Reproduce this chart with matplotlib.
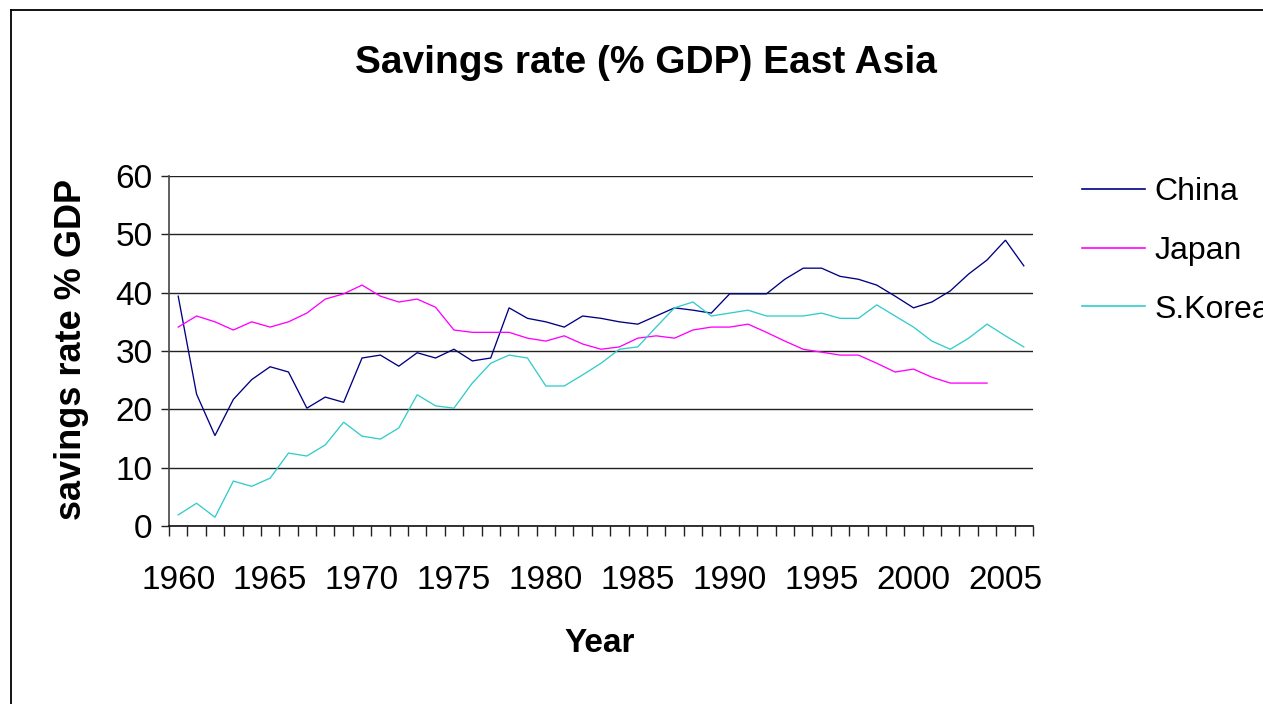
import matplotlib
matplotlib.use("Agg")
import matplotlib.pyplot as plt
from matplotlib.lines import Line2D

plt.rcParams['font.family'] = ['Liberation Sans', 'DejaVu Sans']

years = list(range(1960, 2007))
china = [39.4, 22.6, 15.5, 21.7, 25.1, 27.3, 26.4, 20.2, 22.1, 21.2,
         28.8, 29.3, 27.4, 29.7, 28.8, 30.3, 28.3, 28.8, 37.4, 35.6,
         35.0, 34.1, 36.0, 35.6, 35.0, 34.6, 36.0, 37.4, 37.0, 36.5,
         39.8, 39.8, 39.8, 42.3, 44.2, 44.2, 42.8, 42.3, 41.3, 39.4,
         37.4, 38.4, 40.3, 43.2, 45.6, 49.0, 44.6]
japan = [34.1, 36.0, 35.0, 33.6, 35.0, 34.1, 35.0, 36.5, 38.9, 39.8,
         41.3, 39.4, 38.4, 38.9, 37.5, 33.6, 33.2, 33.2, 33.2, 32.2,
         31.7, 32.6, 31.2, 30.3, 30.7, 32.2, 32.6, 32.2, 33.6, 34.1,
         34.1, 34.6, 33.2, 31.7, 30.3, 29.8, 29.3, 29.3, 27.9, 26.4,
         26.9, 25.5, 24.5, 24.5, 24.5]
korea = [1.9, 3.9, 1.5, 7.7, 6.8, 8.2, 12.5, 12.0, 13.9, 17.8,
         15.4, 14.9, 16.8, 22.5, 20.6, 20.2, 24.5, 27.9, 29.3, 28.8,
         24.0, 24.0, 25.9, 27.9, 30.3, 30.7, 34.1, 37.4, 38.4, 36.0,
         36.5, 37.0, 36.0, 36.0, 36.0, 36.5, 35.6, 35.6, 37.9, 36.0,
         34.1, 31.7, 30.3, 32.2, 34.6, 32.6, 30.7]
series_names = ['China', 'Japan', 'S.Korea']
series_colors = ['#000080', '#FF00FF', '#33CCCC']
yticks = [0, 10, 20, 30, 40, 50, 60]

W, H = 1263, 704
fig = plt.figure(figsize=(W / 100, H / 100), dpi=100)
ax = fig.add_axes([169 / W, 1 - 526 / H, (1033 - 169) / W, (526 - 176) / H])

idx = list(range(len(years)))
for data, name, col in zip([china, japan, korea], series_names, series_colors):
    ax.plot(idx[:len(data)], data, color=col, lw=0.95, label=name, solid_joinstyle='miter')

ax.set_xlim(-0.5, len(years) - 0.5)
ax.set_ylim(0, 60)
ax.set_yticks(yticks)
ax.yaxis.grid(True, color='#222222', lw=1.0)
ax.set_axisbelow(True)
for s in ['top', 'right']:
    ax.spines[s].set_visible(False)
ax.spines['left'].set_color('#444444')
ax.spines['bottom'].set_color('#111111')
ax.spines['left'].set_linewidth(1.2)
ax.spines['bottom'].set_linewidth(1.2)

major = [i for i, y in enumerate(years) if y % 5 == 0]
ax.set_xticks(major)
ax.set_xticklabels([str(years[i]) for i in major])
ax.set_xticks([i - 0.5 for i in range(len(years) + 1)], minor=True)
ax.tick_params(axis='x', which='major', length=0, pad=28, labelsize=24)
ax.tick_params(axis='x', which='minor', length=7, width=1.0, direction='out', color='#222222')
ax.tick_params(axis='y', which='major', length=6, width=1.0, direction='out', pad=6, labelsize=24, color='#222222')

fig.text(646 / W, 1 - 63 / H, 'Savings rate (% GDP) East Asia', ha='center', va='center',
         fontsize=28, fontweight='bold')
fig.text(600 / W, 1 - 643 / H, 'Year', ha='center', va='center', fontsize=24, fontweight='bold')
fig.text(72 / W, 1 - 350 / H, 'savings rate % GDP', ha='center', va='center', rotation=90,
         fontsize=26, fontweight='bold')

leg = ax.legend(loc='upper left', bbox_to_anchor=(1082 / W, 1 - 177 / H),
                bbox_transform=fig.transFigure, frameon=False, fontsize=23,
                handlelength=1.97, handletextpad=0.3, labelspacing=0.9,
                borderpad=0, borderaxespad=0)
for lh in leg.get_lines():
    lh.set_linewidth(1.2)

# outer chart border (left and top)
fig.add_artist(Line2D([11 / W, 11 / W], [0, 1 - 10 / H], transform=fig.transFigure,
                      color='black', lw=1.3))
fig.add_artist(Line2D([11 / W, 1], [1 - 10 / H, 1 - 10 / H], transform=fig.transFigure,
                      color='black', lw=1.3))

fig.savefig('out.png', dpi=100)
